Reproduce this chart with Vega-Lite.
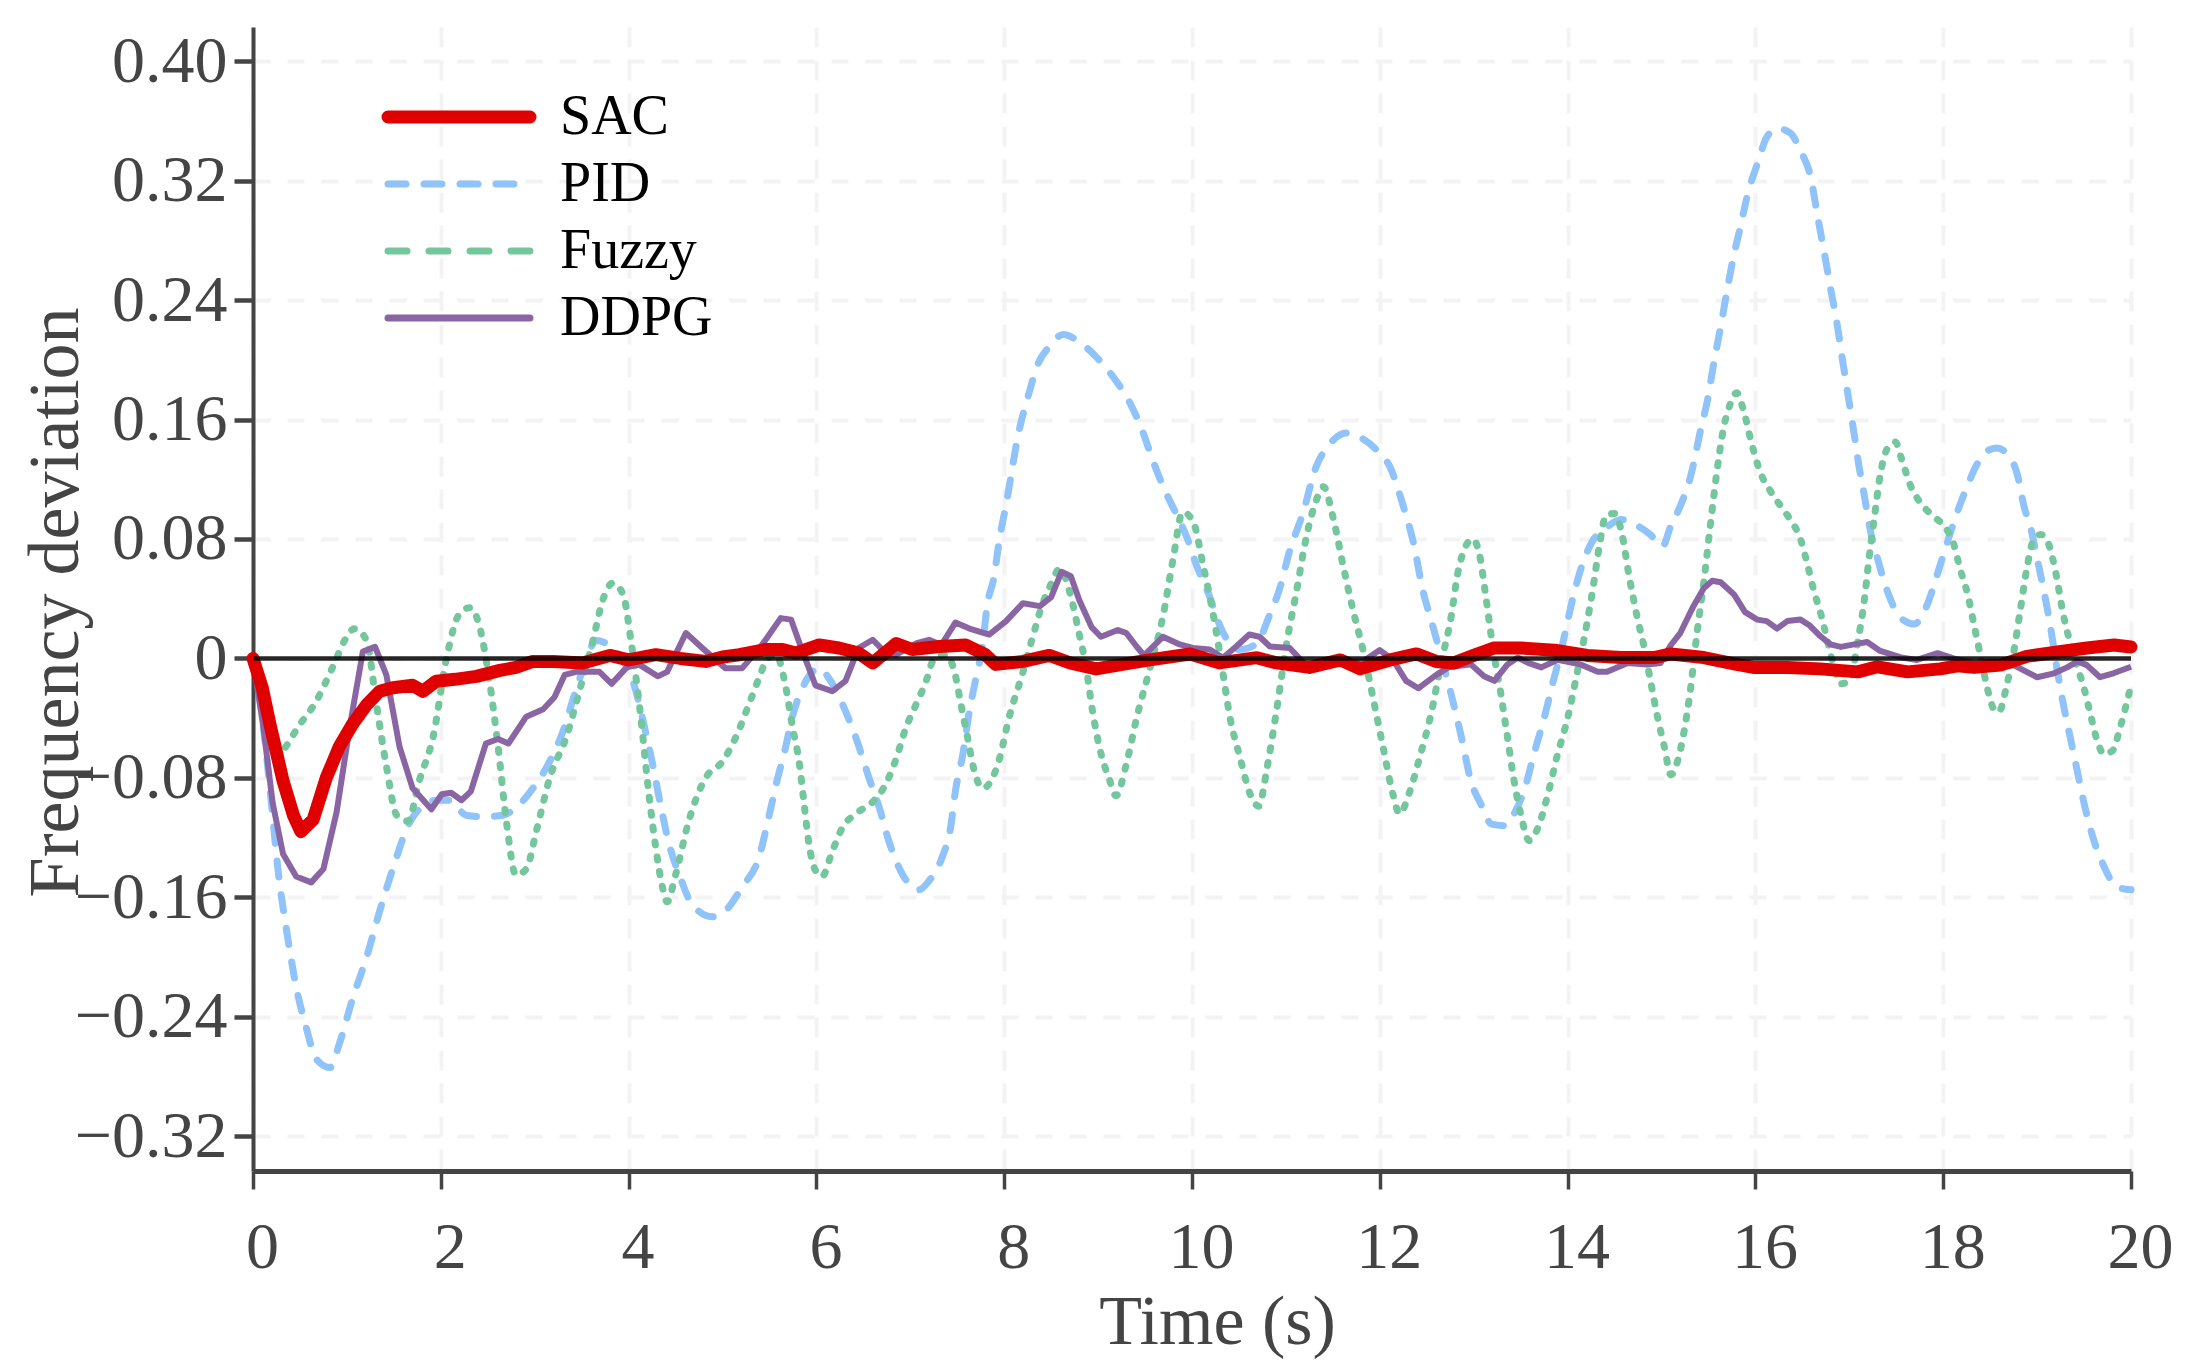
{
  "$schema": "https://vega.github.io/schema/vega-lite/v6.json",
  "width": 1878,
  "height": 1144,
  "autosize": {"type": "none"},
  "padding": {"left": 253, "top": 27, "right": 66, "bottom": 200},
  "background": "white",
  "config": {"font": "Liberation Serif", "view": {"stroke": null}},
  "datasets": {
    "series": [
      {"m":"SAC","t":0,"v":0},{"m":"SAC","t":0.1,"v":-0.02},{"m":"SAC","t":0.18,"v":-0.044},{"m":"SAC","t":0.32,"v":-0.082},{"m":"SAC","t":0.43,"v":-0.105},{"m":"SAC","t":0.51,"v":-0.116},{"m":"SAC","t":0.64,"v":-0.108},{"m":"SAC","t":0.78,"v":-0.08},{"m":"SAC","t":0.92,"v":-0.059},{"m":"SAC","t":1.06,"v":-0.044},{"m":"SAC","t":1.21,"v":-0.031},{"m":"SAC","t":1.35,"v":-0.022},{"m":"SAC","t":1.49,"v":-0.0196},{"m":"SAC","t":1.7,"v":-0.018},{"m":"SAC","t":1.81,"v":-0.022},{"m":"SAC","t":1.95,"v":-0.0153},{"m":"SAC","t":2.15,"v":-0.014},{"m":"SAC","t":2.38,"v":-0.012},{"m":"SAC","t":2.63,"v":-0.008},{"m":"SAC","t":2.8,"v":-0.006},{"m":"SAC","t":2.98,"v":-0.002},{"m":"SAC","t":3.2,"v":-0.002},{"m":"SAC","t":3.51,"v":-0.003},{"m":"SAC","t":3.8,"v":0.002},{"m":"SAC","t":4.0,"v":-0.001},{"m":"SAC","t":4.29,"v":0.0025},{"m":"SAC","t":4.55,"v":0.0},{"m":"SAC","t":4.82,"v":-0.002},{"m":"SAC","t":5.0,"v":0.001},{"m":"SAC","t":5.18,"v":0.0025},{"m":"SAC","t":5.46,"v":0.006},{"m":"SAC","t":5.64,"v":0.006},{"m":"SAC","t":5.78,"v":0.0036},{"m":"SAC","t":6.03,"v":0.009},{"m":"SAC","t":6.24,"v":0.007},{"m":"SAC","t":6.45,"v":0.0036},{"m":"SAC","t":6.6,"v":-0.003},{"m":"SAC","t":6.85,"v":0.01},{"m":"SAC","t":7.02,"v":0.006},{"m":"SAC","t":7.31,"v":0.008},{"m":"SAC","t":7.59,"v":0.009},{"m":"SAC","t":7.8,"v":0.0025},{"m":"SAC","t":7.91,"v":-0.004},{"m":"SAC","t":8.2,"v":-0.002},{"m":"SAC","t":8.48,"v":0.002},{"m":"SAC","t":8.7,"v":-0.003},{"m":"SAC","t":8.98,"v":-0.007},{"m":"SAC","t":9.26,"v":-0.004},{"m":"SAC","t":9.55,"v":-0.001},{"m":"SAC","t":9.98,"v":0.003},{"m":"SAC","t":10.29,"v":-0.003},{"m":"SAC","t":10.69,"v":0.0005},{"m":"SAC","t":10.9,"v":-0.003},{"m":"SAC","t":11.25,"v":-0.006},{"m":"SAC","t":11.58,"v":-0.001},{"m":"SAC","t":11.79,"v":-0.007},{"m":"SAC","t":12.11,"v":-0.001},{"m":"SAC","t":12.39,"v":0.003},{"m":"SAC","t":12.6,"v":-0.002},{"m":"SAC","t":12.79,"v":-0.003},{"m":"SAC","t":13.0,"v":0.002},{"m":"SAC","t":13.22,"v":0.007},{"m":"SAC","t":13.5,"v":0.007},{"m":"SAC","t":13.86,"v":0.0055},{"m":"SAC","t":14.21,"v":0.002},{"m":"SAC","t":14.57,"v":0.0006},{"m":"SAC","t":14.92,"v":0.0006},{"m":"SAC","t":15.1,"v":0.003},{"m":"SAC","t":15.45,"v":0.0006},{"m":"SAC","t":15.8,"v":-0.004},{"m":"SAC","t":15.98,"v":-0.006},{"m":"SAC","t":16.34,"v":-0.006},{"m":"SAC","t":16.69,"v":-0.007},{"m":"SAC","t":17.09,"v":-0.009},{"m":"SAC","t":17.3,"v":-0.0056},{"m":"SAC","t":17.62,"v":-0.009},{"m":"SAC","t":17.97,"v":-0.007},{"m":"SAC","t":18.15,"v":-0.005},{"m":"SAC","t":18.33,"v":-0.006},{"m":"SAC","t":18.61,"v":-0.0045},{"m":"SAC","t":18.89,"v":0.0014},{"m":"SAC","t":19.18,"v":0.004},{"m":"SAC","t":19.53,"v":0.007},{"m":"SAC","t":19.82,"v":0.009},{"m":"SAC","t":20,"v":0.0077},

      {"m":"DDPG","t":0,"v":0},{"m":"DDPG","t":0.11,"v":-0.046},{"m":"DDPG","t":0.21,"v":-0.097},{"m":"DDPG","t":0.32,"v":-0.131},{"m":"DDPG","t":0.46,"v":-0.146},{"m":"DDPG","t":0.62,"v":-0.15},{"m":"DDPG","t":0.75,"v":-0.141},{"m":"DDPG","t":0.89,"v":-0.103},{"m":"DDPG","t":1.03,"v":-0.046},{"m":"DDPG","t":1.17,"v":0.0046},{"m":"DDPG","t":1.3,"v":0.0077},{"m":"DDPG","t":1.42,"v":-0.011},{"m":"DDPG","t":1.56,"v":-0.059},{"m":"DDPG","t":1.7,"v":-0.087},{"m":"DDPG","t":1.9,"v":-0.101},{"m":"DDPG","t":2.01,"v":-0.091},{"m":"DDPG","t":2.11,"v":-0.09},{"m":"DDPG","t":2.22,"v":-0.095},{"m":"DDPG","t":2.32,"v":-0.089},{"m":"DDPG","t":2.48,"v":-0.057},{"m":"DDPG","t":2.61,"v":-0.054},{"m":"DDPG","t":2.72,"v":-0.057},{"m":"DDPG","t":2.91,"v":-0.039},{"m":"DDPG","t":3.09,"v":-0.034},{"m":"DDPG","t":3.21,"v":-0.026},{"m":"DDPG","t":3.32,"v":-0.011},{"m":"DDPG","t":3.44,"v":-0.009},{"m":"DDPG","t":3.69,"v":-0.009},{"m":"DDPG","t":3.82,"v":-0.017},{"m":"DDPG","t":3.98,"v":-0.006},{"m":"DDPG","t":4.11,"v":-0.004},{"m":"DDPG","t":4.31,"v":-0.012},{"m":"DDPG","t":4.41,"v":-0.009},{"m":"DDPG","t":4.61,"v":0.017},{"m":"DDPG","t":4.82,"v":0.005},{"m":"DDPG","t":5.03,"v":-0.0065},{"m":"DDPG","t":5.21,"v":-0.0065},{"m":"DDPG","t":5.42,"v":0.009},{"m":"DDPG","t":5.62,"v":0.027},{"m":"DDPG","t":5.73,"v":0.026},{"m":"DDPG","t":5.85,"v":0.005},{"m":"DDPG","t":5.99,"v":-0.018},{"m":"DDPG","t":6.17,"v":-0.022},{"m":"DDPG","t":6.31,"v":-0.015},{"m":"DDPG","t":6.45,"v":0.007},{"m":"DDPG","t":6.6,"v":0.0125},{"m":"DDPG","t":6.74,"v":0.0036},{"m":"DDPG","t":6.85,"v":0.0025},{"m":"DDPG","t":7.06,"v":0.01},{"m":"DDPG","t":7.2,"v":0.0125},{"m":"DDPG","t":7.33,"v":0.009},{"m":"DDPG","t":7.48,"v":0.024},{"m":"DDPG","t":7.63,"v":0.02},{"m":"DDPG","t":7.84,"v":0.016},{"m":"DDPG","t":8.02,"v":0.025},{"m":"DDPG","t":8.2,"v":0.037},{"m":"DDPG","t":8.38,"v":0.035},{"m":"DDPG","t":8.5,"v":0.041},{"m":"DDPG","t":8.61,"v":0.058},{"m":"DDPG","t":8.71,"v":0.055},{"m":"DDPG","t":8.8,"v":0.039},{"m":"DDPG","t":8.93,"v":0.021},{"m":"DDPG","t":9.03,"v":0.0145},{"m":"DDPG","t":9.21,"v":0.019},{"m":"DDPG","t":9.3,"v":0.017},{"m":"DDPG","t":9.41,"v":0.008},{"m":"DDPG","t":9.49,"v":0.002},{"m":"DDPG","t":9.69,"v":0.0145},{"m":"DDPG","t":9.87,"v":0.0094},{"m":"DDPG","t":10.01,"v":0.007},{"m":"DDPG","t":10.19,"v":0.006},{"m":"DDPG","t":10.33,"v":0.0005},{"m":"DDPG","t":10.47,"v":0.008},{"m":"DDPG","t":10.61,"v":0.016},{"m":"DDPG","t":10.72,"v":0.0145},{"m":"DDPG","t":10.83,"v":0.008},{"m":"DDPG","t":11.04,"v":0.007},{"m":"DDPG","t":11.22,"v":-0.005},{"m":"DDPG","t":11.4,"v":-0.002},{"m":"DDPG","t":11.82,"v":-0.002},{"m":"DDPG","t":12.0,"v":0.0056},{"m":"DDPG","t":12.14,"v":-0.001},{"m":"DDPG","t":12.28,"v":-0.015},{"m":"DDPG","t":12.41,"v":-0.02},{"m":"DDPG","t":12.58,"v":-0.012},{"m":"DDPG","t":12.73,"v":-0.006},{"m":"DDPG","t":12.97,"v":-0.004},{"m":"DDPG","t":13.11,"v":-0.012},{"m":"DDPG","t":13.22,"v":-0.015},{"m":"DDPG","t":13.36,"v":-0.004},{"m":"DDPG","t":13.47,"v":0.0006},{"m":"DDPG","t":13.58,"v":-0.003},{"m":"DDPG","t":13.72,"v":-0.006},{"m":"DDPG","t":13.89,"v":-0.001},{"m":"DDPG","t":14.14,"v":-0.004},{"m":"DDPG","t":14.32,"v":-0.009},{"m":"DDPG","t":14.42,"v":-0.009},{"m":"DDPG","t":14.64,"v":-0.003},{"m":"DDPG","t":14.85,"v":-0.004},{"m":"DDPG","t":14.99,"v":-0.003},{"m":"DDPG","t":15.1,"v":0.009},{"m":"DDPG","t":15.2,"v":0.017},{"m":"DDPG","t":15.34,"v":0.035},{"m":"DDPG","t":15.45,"v":0.047},{"m":"DDPG","t":15.54,"v":0.052},{"m":"DDPG","t":15.63,"v":0.051},{"m":"DDPG","t":15.77,"v":0.043},{"m":"DDPG","t":15.89,"v":0.031},{"m":"DDPG","t":16.02,"v":0.026},{"m":"DDPG","t":16.12,"v":0.025},{"m":"DDPG","t":16.23,"v":0.02},{"m":"DDPG","t":16.34,"v":0.025},{"m":"DDPG","t":16.48,"v":0.026},{"m":"DDPG","t":16.58,"v":0.022},{"m":"DDPG","t":16.69,"v":0.015},{"m":"DDPG","t":16.8,"v":0.0094},{"m":"DDPG","t":16.91,"v":0.0077},{"m":"DDPG","t":17.05,"v":0.0094},{"m":"DDPG","t":17.19,"v":0.011},{"m":"DDPG","t":17.33,"v":0.005},{"m":"DDPG","t":17.55,"v":0.0007},{"m":"DDPG","t":17.72,"v":-0.001},{"m":"DDPG","t":17.94,"v":0.0035},{"m":"DDPG","t":18.11,"v":0},{"m":"DDPG","t":18.33,"v":-0.003},{"m":"DDPG","t":18.54,"v":-0.002},{"m":"DDPG","t":18.75,"v":-0.0045},{"m":"DDPG","t":19.0,"v":-0.0126},{"m":"DDPG","t":19.18,"v":-0.01},{"m":"DDPG","t":19.32,"v":-0.006},{"m":"DDPG","t":19.43,"v":-0.002},{"m":"DDPG","t":19.53,"v":-0.0045},{"m":"DDPG","t":19.67,"v":-0.0126},{"m":"DDPG","t":19.82,"v":-0.0098},{"m":"DDPG","t":20,"v":-0.0056},

      {"m":"PID","t":0,"v":0},{"m":"PID","t":0.1,"v":-0.04},{"m":"PID","t":0.18,"v":-0.087},{"m":"PID","t":0.28,"v":-0.149},{"m":"PID","t":0.35,"v":-0.179},{"m":"PID","t":0.46,"v":-0.22},{"m":"PID","t":0.57,"v":-0.248},{"m":"PID","t":0.67,"v":-0.268},{"m":"PID","t":0.82,"v":-0.274},{"m":"PID","t":0.92,"v":-0.258},{"m":"PID","t":1.06,"v":-0.228},{"m":"PID","t":1.21,"v":-0.2},{"m":"PID","t":1.35,"v":-0.169},{"m":"PID","t":1.53,"v":-0.133},{"m":"PID","t":1.63,"v":-0.115},{"m":"PID","t":1.74,"v":-0.103},{"m":"PID","t":1.95,"v":-0.095},{"m":"PID","t":2.09,"v":-0.095},{"m":"PID","t":2.27,"v":-0.105},{"m":"PID","t":2.45,"v":-0.106},{"m":"PID","t":2.66,"v":-0.105},{"m":"PID","t":2.8,"v":-0.1},{"m":"PID","t":2.98,"v":-0.087},{"m":"PID","t":3.16,"v":-0.069},{"m":"PID","t":3.3,"v":-0.049},{"m":"PID","t":3.44,"v":-0.021},{"m":"PID","t":3.51,"v":-0.008},{"m":"PID","t":3.66,"v":0.012},{"m":"PID","t":3.73,"v":0.011},{"m":"PID","t":3.9,"v":0.002},{"m":"PID","t":4.05,"v":-0.016},{"m":"PID","t":4.18,"v":-0.049},{"m":"PID","t":4.25,"v":-0.069},{"m":"PID","t":4.34,"v":-0.098},{"m":"PID","t":4.43,"v":-0.124},{"m":"PID","t":4.54,"v":-0.145},{"m":"PID","t":4.68,"v":-0.165},{"m":"PID","t":4.89,"v":-0.173},{"m":"PID","t":5.03,"v":-0.169},{"m":"PID","t":5.21,"v":-0.153},{"m":"PID","t":5.39,"v":-0.133},{"m":"PID","t":5.49,"v":-0.107},{"m":"PID","t":5.58,"v":-0.082},{"m":"PID","t":5.67,"v":-0.06},{"m":"PID","t":5.74,"v":-0.04},{"m":"PID","t":5.85,"v":-0.02},{"m":"PID","t":6.03,"v":-0.0065},{"m":"PID","t":6.13,"v":-0.013},{"m":"PID","t":6.28,"v":-0.031},{"m":"PID","t":6.42,"v":-0.053},{"m":"PID","t":6.56,"v":-0.08},{"m":"PID","t":6.67,"v":-0.1},{"m":"PID","t":6.77,"v":-0.122},{"m":"PID","t":6.92,"v":-0.145},{"m":"PID","t":7.09,"v":-0.155},{"m":"PID","t":7.2,"v":-0.149},{"m":"PID","t":7.34,"v":-0.133},{"m":"PID","t":7.43,"v":-0.113},{"m":"PID","t":7.48,"v":-0.089},{"m":"PID","t":7.56,"v":-0.064},{"m":"PID","t":7.63,"v":-0.035},{"m":"PID","t":7.7,"v":-0.013},{"m":"PID","t":7.77,"v":0.009},{"m":"PID","t":7.82,"v":0.036},{"m":"PID","t":7.89,"v":0.054},{"m":"PID","t":7.95,"v":0.08},{"m":"PID","t":8.02,"v":0.103},{"m":"PID","t":8.15,"v":0.15},{"m":"PID","t":8.27,"v":0.179},{"m":"PID","t":8.34,"v":0.194},{"m":"PID","t":8.48,"v":0.209},{"m":"PID","t":8.63,"v":0.217},{"m":"PID","t":8.8,"v":0.212},{"m":"PID","t":8.98,"v":0.202},{"m":"PID","t":9.19,"v":0.186},{"m":"PID","t":9.34,"v":0.171},{"m":"PID","t":9.48,"v":0.151},{"m":"PID","t":9.58,"v":0.133},{"m":"PID","t":9.73,"v":0.11},{"m":"PID","t":9.83,"v":0.097},{"m":"PID","t":9.94,"v":0.082},{"m":"PID","t":10.05,"v":0.062},{"m":"PID","t":10.19,"v":0.041},{"m":"PID","t":10.29,"v":0.023},{"m":"PID","t":10.37,"v":0.013},{"m":"PID","t":10.5,"v":0.006},{"m":"PID","t":10.6,"v":0.007},{"m":"PID","t":10.72,"v":0.013},{"m":"PID","t":10.82,"v":0.028},{"m":"PID","t":10.93,"v":0.046},{"m":"PID","t":11.04,"v":0.072},{"m":"PID","t":11.18,"v":0.097},{"m":"PID","t":11.32,"v":0.128},{"m":"PID","t":11.46,"v":0.143},{"m":"PID","t":11.64,"v":0.151},{"m":"PID","t":11.82,"v":0.147},{"m":"PID","t":11.96,"v":0.14},{"m":"PID","t":12.11,"v":0.128},{"m":"PID","t":12.25,"v":0.102},{"m":"PID","t":12.36,"v":0.077},{"m":"PID","t":12.46,"v":0.045},{"m":"PID","t":12.55,"v":0.025},{"m":"PID","t":12.65,"v":0.002},{"m":"PID","t":12.76,"v":-0.024},{"m":"PID","t":12.87,"v":-0.053},{"m":"PID","t":12.97,"v":-0.082},{"m":"PID","t":13.08,"v":-0.098},{"m":"PID","t":13.19,"v":-0.111},{"m":"PID","t":13.33,"v":-0.112},{"m":"PID","t":13.43,"v":-0.104},{"m":"PID","t":13.54,"v":-0.088},{"m":"PID","t":13.65,"v":-0.062},{"m":"PID","t":13.75,"v":-0.04},{"m":"PID","t":13.84,"v":-0.017},{"m":"PID","t":13.93,"v":0.005},{"m":"PID","t":14.0,"v":0.025},{"m":"PID","t":14.07,"v":0.044},{"m":"PID","t":14.18,"v":0.067},{"m":"PID","t":14.28,"v":0.08},{"m":"PID","t":14.42,"v":0.088},{"m":"PID","t":14.57,"v":0.093},{"m":"PID","t":14.74,"v":0.089},{"m":"PID","t":14.88,"v":0.083},{"m":"PID","t":15.01,"v":0.075},{"m":"PID","t":15.1,"v":0.089},{"m":"PID","t":15.2,"v":0.102},{"m":"PID","t":15.31,"v":0.122},{"m":"PID","t":15.42,"v":0.154},{"m":"PID","t":15.49,"v":0.173},{"m":"PID","t":15.56,"v":0.199},{"m":"PID","t":15.63,"v":0.222},{"m":"PID","t":15.7,"v":0.247},{"m":"PID","t":15.77,"v":0.27},{"m":"PID","t":15.84,"v":0.289},{"m":"PID","t":15.93,"v":0.314},{"m":"PID","t":16.02,"v":0.331},{"m":"PID","t":16.12,"v":0.349},{"m":"PID","t":16.23,"v":0.355},{"m":"PID","t":16.37,"v":0.352},{"m":"PID","t":16.48,"v":0.34},{"m":"PID","t":16.59,"v":0.322},{"m":"PID","t":16.66,"v":0.297},{"m":"PID","t":16.73,"v":0.273},{"m":"PID","t":16.8,"v":0.248},{"m":"PID","t":16.87,"v":0.224},{"m":"PID","t":16.92,"v":0.203},{"m":"PID","t":16.98,"v":0.179},{"m":"PID","t":17.05,"v":0.151},{"m":"PID","t":17.1,"v":0.13},{"m":"PID","t":17.16,"v":0.109},{"m":"PID","t":17.23,"v":0.084},{"m":"PID","t":17.3,"v":0.067},{"m":"PID","t":17.4,"v":0.046},{"m":"PID","t":17.55,"v":0.027},{"m":"PID","t":17.69,"v":0.023},{"m":"PID","t":17.83,"v":0.036},{"m":"PID","t":17.94,"v":0.057},{"m":"PID","t":18.04,"v":0.077},{"m":"PID","t":18.15,"v":0.098},{"m":"PID","t":18.26,"v":0.116},{"m":"PID","t":18.36,"v":0.13},{"m":"PID","t":18.47,"v":0.139},{"m":"PID","t":18.57,"v":0.141},{"m":"PID","t":18.68,"v":0.137},{"m":"PID","t":18.79,"v":0.123},{"m":"PID","t":18.86,"v":0.102},{"m":"PID","t":18.93,"v":0.088},{"m":"PID","t":19.0,"v":0.067},{"m":"PID","t":19.07,"v":0.046},{"m":"PID","t":19.14,"v":0.022},{"m":"PID","t":19.21,"v":-0.006},{"m":"PID","t":19.28,"v":-0.031},{"m":"PID","t":19.35,"v":-0.052},{"m":"PID","t":19.42,"v":-0.073},{"m":"PID","t":19.5,"v":-0.097},{"m":"PID","t":19.6,"v":-0.121},{"m":"PID","t":19.71,"v":-0.139},{"m":"PID","t":19.85,"v":-0.153},{"m":"PID","t":20,"v":-0.155},

      {"m":"Fuzzy","t":0,"v":0},{"m":"Fuzzy","t":0.1,"v":-0.03},{"m":"Fuzzy","t":0.2,"v":-0.055},{"m":"Fuzzy","t":0.28,"v":-0.062},{"m":"Fuzzy","t":0.5,"v":-0.044},{"m":"Fuzzy","t":0.67,"v":-0.029},{"m":"Fuzzy","t":0.85,"v":-0.0056},{"m":"Fuzzy","t":0.99,"v":0.0135},{"m":"Fuzzy","t":1.08,"v":0.0199},{"m":"Fuzzy","t":1.21,"v":0.012},{"m":"Fuzzy","t":1.31,"v":-0.029},{"m":"Fuzzy","t":1.42,"v":-0.072},{"m":"Fuzzy","t":1.53,"v":-0.105},{"m":"Fuzzy","t":1.65,"v":-0.109},{"m":"Fuzzy","t":1.77,"v":-0.082},{"m":"Fuzzy","t":1.92,"v":-0.052},{"m":"Fuzzy","t":2.06,"v":0},{"m":"Fuzzy","t":2.2,"v":0.03},{"m":"Fuzzy","t":2.31,"v":0.034},{"m":"Fuzzy","t":2.41,"v":0.022},{"m":"Fuzzy","t":2.52,"v":-0.016},{"m":"Fuzzy","t":2.61,"v":-0.059},{"m":"Fuzzy","t":2.7,"v":-0.11},{"m":"Fuzzy","t":2.8,"v":-0.145},{"m":"Fuzzy","t":2.91,"v":-0.141},{"m":"Fuzzy","t":3.02,"v":-0.115},{"m":"Fuzzy","t":3.16,"v":-0.08},{"m":"Fuzzy","t":3.34,"v":-0.052},{"m":"Fuzzy","t":3.48,"v":-0.021},{"m":"Fuzzy","t":3.62,"v":0.012},{"m":"Fuzzy","t":3.73,"v":0.04},{"m":"Fuzzy","t":3.83,"v":0.0505},{"m":"Fuzzy","t":3.94,"v":0.043},{"m":"Fuzzy","t":4.03,"v":0.0097},{"m":"Fuzzy","t":4.12,"v":-0.034},{"m":"Fuzzy","t":4.22,"v":-0.093},{"m":"Fuzzy","t":4.29,"v":-0.127},{"m":"Fuzzy","t":4.36,"v":-0.153},{"m":"Fuzzy","t":4.41,"v":-0.163},{"m":"Fuzzy","t":4.5,"v":-0.145},{"m":"Fuzzy","t":4.64,"v":-0.109},{"m":"Fuzzy","t":4.82,"v":-0.08},{"m":"Fuzzy","t":5.0,"v":-0.069},{"m":"Fuzzy","t":5.14,"v":-0.053},{"m":"Fuzzy","t":5.28,"v":-0.031},{"m":"Fuzzy","t":5.39,"v":-0.013},{"m":"Fuzzy","t":5.48,"v":0},{"m":"Fuzzy","t":5.57,"v":0.0025},{"m":"Fuzzy","t":5.67,"v":-0.018},{"m":"Fuzzy","t":5.74,"v":-0.044},{"m":"Fuzzy","t":5.82,"v":-0.071},{"m":"Fuzzy","t":5.87,"v":-0.098},{"m":"Fuzzy","t":5.92,"v":-0.124},{"m":"Fuzzy","t":5.99,"v":-0.142},{"m":"Fuzzy","t":6.06,"v":-0.146},{"m":"Fuzzy","t":6.17,"v":-0.129},{"m":"Fuzzy","t":6.28,"v":-0.113},{"m":"Fuzzy","t":6.42,"v":-0.104},{"m":"Fuzzy","t":6.6,"v":-0.096},{"m":"Fuzzy","t":6.74,"v":-0.084},{"m":"Fuzzy","t":6.85,"v":-0.067},{"m":"Fuzzy","t":6.95,"v":-0.047},{"m":"Fuzzy","t":7.06,"v":-0.031},{"m":"Fuzzy","t":7.17,"v":-0.015},{"m":"Fuzzy","t":7.24,"v":-0.002},{"m":"Fuzzy","t":7.38,"v":0.0025},{"m":"Fuzzy","t":7.47,"v":-0.0087},{"m":"Fuzzy","t":7.54,"v":-0.031},{"m":"Fuzzy","t":7.61,"v":-0.053},{"m":"Fuzzy","t":7.68,"v":-0.075},{"m":"Fuzzy","t":7.77,"v":-0.087},{"m":"Fuzzy","t":7.86,"v":-0.082},{"m":"Fuzzy","t":7.95,"v":-0.067},{"m":"Fuzzy","t":8.05,"v":-0.04},{"m":"Fuzzy","t":8.2,"v":-0.009},{"m":"Fuzzy","t":8.3,"v":0.0136},{"m":"Fuzzy","t":8.4,"v":0.035},{"m":"Fuzzy","t":8.5,"v":0.05},{"m":"Fuzzy","t":8.59,"v":0.06},{"m":"Fuzzy","t":8.7,"v":0.044},{"m":"Fuzzy","t":8.8,"v":0.016},{"m":"Fuzzy","t":8.87,"v":-0.005},{"m":"Fuzzy","t":8.94,"v":-0.035},{"m":"Fuzzy","t":9.02,"v":-0.061},{"m":"Fuzzy","t":9.12,"v":-0.081},{"m":"Fuzzy","t":9.19,"v":-0.092},{"m":"Fuzzy","t":9.3,"v":-0.071},{"m":"Fuzzy","t":9.41,"v":-0.04},{"m":"Fuzzy","t":9.55,"v":-0.007},{"m":"Fuzzy","t":9.69,"v":0.028},{"m":"Fuzzy","t":9.8,"v":0.067},{"m":"Fuzzy","t":9.9,"v":0.098},{"m":"Fuzzy","t":10.01,"v":0.092},{"m":"Fuzzy","t":10.12,"v":0.062},{"m":"Fuzzy","t":10.23,"v":0.028},{"m":"Fuzzy","t":10.33,"v":-0.01},{"m":"Fuzzy","t":10.4,"v":-0.038},{"m":"Fuzzy","t":10.51,"v":-0.066},{"m":"Fuzzy","t":10.62,"v":-0.091},{"m":"Fuzzy","t":10.71,"v":-0.099},{"m":"Fuzzy","t":10.8,"v":-0.073},{"m":"Fuzzy","t":10.9,"v":-0.035},{"m":"Fuzzy","t":11.01,"v":0.011},{"m":"Fuzzy","t":11.11,"v":0.044},{"m":"Fuzzy","t":11.22,"v":0.082},{"m":"Fuzzy","t":11.33,"v":0.107},{"m":"Fuzzy","t":11.4,"v":0.115},{"m":"Fuzzy","t":11.5,"v":0.095},{"m":"Fuzzy","t":11.61,"v":0.062},{"m":"Fuzzy","t":11.72,"v":0.031},{"m":"Fuzzy","t":11.82,"v":0.006},{"m":"Fuzzy","t":11.93,"v":-0.027},{"m":"Fuzzy","t":12.04,"v":-0.061},{"m":"Fuzzy","t":12.14,"v":-0.091},{"m":"Fuzzy","t":12.21,"v":-0.104},{"m":"Fuzzy","t":12.32,"v":-0.089},{"m":"Fuzzy","t":12.43,"v":-0.065},{"m":"Fuzzy","t":12.55,"v":-0.036},{"m":"Fuzzy","t":12.65,"v":-0.004},{"m":"Fuzzy","t":12.76,"v":0.028},{"m":"Fuzzy","t":12.83,"v":0.057},{"m":"Fuzzy","t":12.9,"v":0.073},{"m":"Fuzzy","t":12.99,"v":0.08},{"m":"Fuzzy","t":13.06,"v":0.07},{"m":"Fuzzy","t":13.13,"v":0.041},{"m":"Fuzzy","t":13.2,"v":0.009},{"m":"Fuzzy","t":13.29,"v":-0.024},{"m":"Fuzzy","t":13.36,"v":-0.053},{"m":"Fuzzy","t":13.43,"v":-0.082},{"m":"Fuzzy","t":13.5,"v":-0.104},{"m":"Fuzzy","t":13.59,"v":-0.122},{"m":"Fuzzy","t":13.68,"v":-0.114},{"m":"Fuzzy","t":13.79,"v":-0.091},{"m":"Fuzzy","t":13.89,"v":-0.065},{"m":"Fuzzy","t":14.0,"v":-0.04},{"m":"Fuzzy","t":14.11,"v":-0.007},{"m":"Fuzzy","t":14.19,"v":0.018},{"m":"Fuzzy","t":14.27,"v":0.047},{"m":"Fuzzy","t":14.34,"v":0.076},{"m":"Fuzzy","t":14.41,"v":0.096},{"m":"Fuzzy","t":14.5,"v":0.097},{"m":"Fuzzy","t":14.58,"v":0.083},{"m":"Fuzzy","t":14.65,"v":0.057},{"m":"Fuzzy","t":14.74,"v":0.028},{"m":"Fuzzy","t":14.81,"v":0.009},{"m":"Fuzzy","t":14.88,"v":-0.014},{"m":"Fuzzy","t":14.96,"v":-0.04},{"m":"Fuzzy","t":15.03,"v":-0.059},{"m":"Fuzzy","t":15.1,"v":-0.078},{"m":"Fuzzy","t":15.17,"v":-0.069},{"m":"Fuzzy","t":15.24,"v":-0.049},{"m":"Fuzzy","t":15.31,"v":-0.02},{"m":"Fuzzy","t":15.38,"v":0.018},{"m":"Fuzzy","t":15.45,"v":0.051},{"m":"Fuzzy","t":15.52,"v":0.089},{"m":"Fuzzy","t":15.59,"v":0.125},{"m":"Fuzzy","t":15.66,"v":0.154},{"m":"Fuzzy","t":15.73,"v":0.17},{"m":"Fuzzy","t":15.8,"v":0.178},{"m":"Fuzzy","t":15.87,"v":0.167},{"m":"Fuzzy","t":15.96,"v":0.144},{"m":"Fuzzy","t":16.05,"v":0.125},{"m":"Fuzzy","t":16.16,"v":0.112},{"m":"Fuzzy","t":16.27,"v":0.102},{"m":"Fuzzy","t":16.37,"v":0.093},{"m":"Fuzzy","t":16.48,"v":0.08},{"m":"Fuzzy","t":16.55,"v":0.064},{"m":"Fuzzy","t":16.62,"v":0.046},{"m":"Fuzzy","t":16.7,"v":0.029},{"m":"Fuzzy","t":16.77,"v":0.011},{"m":"Fuzzy","t":16.84,"v":-0.006},{"m":"Fuzzy","t":16.91,"v":-0.017},{"m":"Fuzzy","t":17.0,"v":-0.015},{"m":"Fuzzy","t":17.09,"v":0.011},{"m":"Fuzzy","t":17.16,"v":0.039},{"m":"Fuzzy","t":17.21,"v":0.067},{"m":"Fuzzy","t":17.26,"v":0.091},{"m":"Fuzzy","t":17.33,"v":0.123},{"m":"Fuzzy","t":17.4,"v":0.14},{"m":"Fuzzy","t":17.49,"v":0.145},{"m":"Fuzzy","t":17.56,"v":0.133},{"m":"Fuzzy","t":17.65,"v":0.116},{"m":"Fuzzy","t":17.76,"v":0.104},{"m":"Fuzzy","t":17.9,"v":0.095},{"m":"Fuzzy","t":18.02,"v":0.088},{"m":"Fuzzy","t":18.11,"v":0.077},{"m":"Fuzzy","t":18.18,"v":0.06},{"m":"Fuzzy","t":18.26,"v":0.043},{"m":"Fuzzy","t":18.33,"v":0.022},{"m":"Fuzzy","t":18.4,"v":0.001},{"m":"Fuzzy","t":18.47,"v":-0.02},{"m":"Fuzzy","t":18.54,"v":-0.034},{"m":"Fuzzy","t":18.59,"v":-0.036},{"m":"Fuzzy","t":18.68,"v":-0.017},{"m":"Fuzzy","t":18.75,"v":0.004},{"m":"Fuzzy","t":18.82,"v":0.032},{"m":"Fuzzy","t":18.89,"v":0.06},{"m":"Fuzzy","t":18.96,"v":0.079},{"m":"Fuzzy","t":19.04,"v":0.083},{"m":"Fuzzy","t":19.12,"v":0.077},{"m":"Fuzzy","t":19.2,"v":0.057},{"m":"Fuzzy","t":19.28,"v":0.029},{"m":"Fuzzy","t":19.35,"v":0.011},{"m":"Fuzzy","t":19.43,"v":-0.006},{"m":"Fuzzy","t":19.5,"v":-0.02},{"m":"Fuzzy","t":19.57,"v":-0.038},{"m":"Fuzzy","t":19.64,"v":-0.055},{"m":"Fuzzy","t":19.71,"v":-0.064},{"m":"Fuzzy","t":19.8,"v":-0.062},{"m":"Fuzzy","t":19.89,"v":-0.045},{"m":"Fuzzy","t":20,"v":-0.018}
    ],
    "zero": [{"v": 0}]
  },
  "layer": [
    {
      "data": {"name": "series"},
      "encoding": {
        "x": {
          "field": "t", "type": "quantitative",
          "scale": {"domain": [0, 20], "nice": false},
          "axis": {
            "title": "Time (s)",
            "values": [0, 2, 4, 6, 8, 10, 12, 14, 16, 18, 20],
            "format": "d",
            "grid": true, "gridColor": "#f3f3f3", "gridWidth": 4, "gridDash": [20, 13],
            "domainColor": "#444444", "domainWidth": 5,
            "tickColor": "#444444", "tickSize": 18, "tickWidth": 3.5,
            "labelFont": "Liberation Serif", "labelFontSize": 66, "labelColor": "#444444",
            "labelPadding": 26, "labelOffset": 9, "labelFlush": false, "labelOverlap": false,
            "titleFont": "Liberation Serif", "titleFontSize": 70, "titleFontWeight": "normal",
            "titleColor": "#444444", "titleX": 964, "titleY": 172,
            "titleBaseline": "alphabetic", "titleAlign": "center"
          }
        },
        "y": {
          "field": "v", "type": "quantitative",
          "title": "Frequency deviation",
          "scale": {"domain": [-0.3433, 0.4229], "nice": false, "zero": false},
          "axis": {
            "values": [-0.32, -0.24, -0.16, -0.08, 0, 0.08, 0.16, 0.24, 0.32, 0.4],
            "labelExpr": "datum.value == 0 ? '0' : format(datum.value, '.2f')",
            "grid": true, "gridColor": "#f3f3f3", "gridWidth": 4, "gridDash": [17, 17],
            "domainColor": "#444444", "domainWidth": 4,
            "tickColor": "#444444", "tickSize": 19, "tickWidth": 4.5,
            "labelFont": "Liberation Serif", "labelFontSize": 66, "labelColor": "#444444",
            "labelPadding": 7, "labelFlush": false, "labelOverlap": false,
            "titleFont": "Liberation Serif", "titleFontSize": 72, "titleFontWeight": "normal",
            "titleColor": "#444444", "titleX": -176, "titleY": 575, "titleAngle": 270,
            "titleBaseline": "alphabetic", "titleAlign": "center"
          }
        },
        "color": {
          "field": "m", "type": "nominal",
          "scale": {"domain": ["SAC", "PID", "Fuzzy", "DDPG"], "range": ["#e00000", "#8fc3fa", "#74c69d", "#8a65a3"]},
          "legend": {
            "title": null, "orient": "none", "legendX": 120, "legendY": 62,
            "padding": 0, "rowPadding": 11,
            "symbolType": "M-4,0H4", "symbolSize": 1260, "symbolOffset": 58,
            "labelOffset": 73, "labelFont": "Liberation Serif", "labelFontSize": 56,
            "labelColor": "black", "labelLimit": 0,
            "encode": {
              "symbols": {
                "enter": {
                  "strokeDash": {"signal": "datum.value === 'PID' ? [18, 18] : datum.value === 'Fuzzy' ? [19, 22] : [1, 0]"}
                },
                "update": {
                  "strokeWidth": {"signal": "datum.value === 'SAC' ? 13 : 7"},
                  "strokeDash": {"signal": "datum.value === 'PID' ? [18, 18] : datum.value === 'Fuzzy' ? [19, 22] : [1, 0]"},
                  "strokeCap": {"value": "round"}
                }
              }
            }
          }
        }
      },
      "layer": [
        {
          "transform": [{"filter": "datum.m === 'PID'"}],
          "mark": {"type": "line", "strokeWidth": 7, "strokeDash": [16, 18], "strokeCap": "round", "interpolate": "monotone"}
        },
        {
          "transform": [{"filter": "datum.m === 'Fuzzy'"}],
          "mark": {"type": "line", "strokeWidth": 7, "strokeDash": [3, 12], "strokeCap": "round", "interpolate": "monotone"}
        },
        {
          "transform": [{"filter": "datum.m === 'DDPG'"}],
          "mark": {"type": "line", "strokeWidth": 6, "strokeJoin": "round"}
        },
        {
          "transform": [{"filter": "datum.m === 'SAC'"}],
          "mark": {"type": "line", "strokeWidth": 13, "strokeJoin": "round", "strokeCap": "round"}
        }
      ]
    },
    {
      "data": {"name": "zero"},
      "mark": {"type": "rule", "color": "black", "strokeWidth": 4.5, "opacity": 0.85},
      "encoding": {
        "y": {"field": "v", "type": "quantitative", "title": "Frequency deviation"}
      }
    }
  ]
}
